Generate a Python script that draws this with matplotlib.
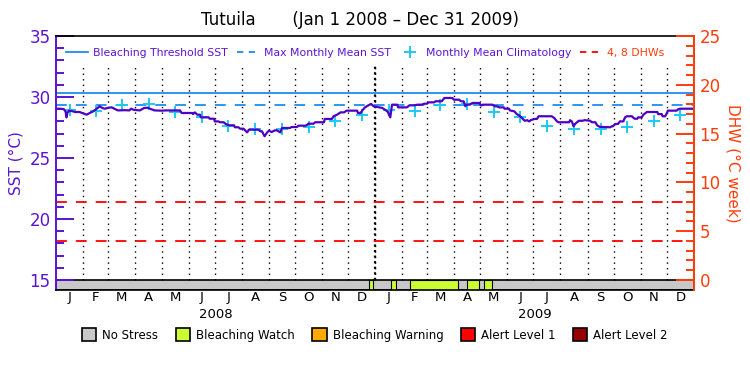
import numpy as np
import matplotlib
matplotlib.use('Agg')
import matplotlib.pyplot as plt
from matplotlib.patches import Patch
from matplotlib.lines import Line2D

# ---------------------------------------------------------------- data
# days since 2008-01-01, daily SST (deg C)
sst_day = [0, 5, 9, 11, 12, 13, 15, 18, 22, 27, 31, 35, 39, 42, 46, 50, 53, 56, 60, 64,
           68, 71, 79, 84, 86, 89, 96, 101, 105, 109, 113, 121, 126, 142, 144, 156, 157, 159,
           162, 165, 166, 175, 176, 181, 182, 186, 188, 192, 194, 198, 204, 205, 209, 211,
           215, 217, 219, 221, 232, 234, 236, 239, 242, 244, 247, 251, 253, 257, 259, 268,
           270, 276, 278, 286, 288, 289, 295, 297, 307, 308, 316, 318, 322, 326, 330, 333,
           345, 346, 349, 351, 354, 358, 361, 364, 374, 377, 380, 383, 385, 391, 392, 402,
           405, 411, 414, 419, 422, 425, 427, 433, 435, 442, 445, 454, 456, 462, 464, 467,
           469, 470, 474, 477, 485, 487, 489, 500, 503, 505, 508, 513, 514, 519, 520, 525,
           528, 531, 534, 537, 540, 542, 544, 548, 551, 553, 568, 571, 574, 576, 588, 589,
           591, 593, 595, 599, 603, 606, 612, 614, 618, 620, 623, 635, 637, 638, 641, 644,
           646, 650, 652, 654, 660, 661, 663, 666, 667, 671, 673, 677, 689, 690, 694, 695,
           698, 700, 701, 711, 713, 715, 731]
sst_val = [29.04, 29.04, 29.0, 28.8, 28.33, 28.7, 28.88, 28.85, 28.77, 28.77, 28.66, 28.55,
           28.7, 28.8, 29.0, 29.24, 29.1, 29.04, 29.12, 29.15, 29.0, 28.9, 28.92, 28.9, 29.04,
           28.95, 28.9, 29.1, 29.12, 29.0, 28.9, 28.88, 28.9, 28.9, 28.69, 28.69, 28.6, 28.74,
           28.55, 28.55, 28.33, 28.33, 28.22, 28.22, 28.0, 28.0, 27.93, 27.93, 27.81, 27.68,
           27.68, 27.52, 27.52, 27.4, 27.4, 27.24, 27.1, 27.32, 27.32, 27.19, 27.19, 26.78,
           27.1, 27.24, 27.13, 27.27, 27.27, 27.1, 27.46, 27.46, 27.54, 27.54, 27.65, 27.65,
           27.73, 27.81, 27.81, 27.93, 27.93, 28.2, 28.2, 28.42, 28.55, 28.74, 28.74, 28.88,
           28.88, 28.69, 28.69, 28.9, 29.15, 29.32, 29.43, 29.24, 29.1, 28.95, 28.8, 28.33,
           29.37, 29.37, 29.15, 29.15, 29.32, 29.32, 29.37, 29.37, 29.45, 29.45, 29.56, 29.56,
           29.65, 29.65, 29.92, 29.92, 29.78, 29.78, 29.65, 29.65, 29.24, 29.37, 29.37, 29.51,
           29.51, 29.3, 29.37, 29.37, 29.24, 29.24, 29.15, 29.15, 29.04, 29.04, 28.9, 28.83,
           28.6, 28.47, 28.27, 28.05, 28.1, 28.0, 28.1, 28.2, 28.2, 28.42, 28.42, 28.27, 28.0,
           27.93, 27.93, 28.1, 28.0, 27.6, 27.81, 28.05, 28.05, 28.1, 28.05, 27.93, 27.93,
           27.68, 27.55, 27.52, 27.6, 27.6, 27.79, 27.79, 28.0, 28.0, 28.33, 28.42, 28.42,
           28.33, 28.22, 28.22, 28.33, 28.33, 28.55, 28.77, 28.77, 28.6, 28.6, 28.42, 28.42,
           28.69, 28.88, 28.88, 29.0, 29.04, 29.04]

clim_months = ['J', 'F', 'M', 'A', 'M', 'J', 'J', 'A', 'S', 'O', 'N', 'D']
clim_val = [28.95, 28.85, 29.32, 29.40, 28.74, 28.33, 27.66, 27.36, 27.38, 27.58, 28.0, 28.5]

mmm = 29.34
threshold = mmm + 1.0
dhw_levels = [4, 8]

# stress periods that are not "No Stress" (day start, day end, level)
stress_start = [359, 384, 406, 471, 490]
stress_end = [363, 390, 461, 485, 499]
stress_level = [1, 1, 1, 1, 1]

stress_names = ['No Stress', 'Bleaching Watch', 'Bleaching Warning', 'Alert Level 1', 'Alert Level 2']
stress_cols = ['#c8c8c8', '#ccff33', '#ffaa00', '#ff0000', '#990000']

years = ['2008', '2009']

# ---------------------------------------------------------------- style
purple = '#5a14d2'
line_col = '#4e00c4'
orange = '#ff3d0a'
blue = '#1e8cf0'
cyan = '#1ec8f5'

plt.rcParams['font.family'] = 'DejaVu Sans'

fig = plt.figure(figsize=(7.5, 3.75), dpi=100)
ax = fig.add_axes([56/750, 1-290/375, 638/750, 254/375])

ymin, ymax = 14.18, 35.0
ndays = 731

# month boundaries / centres
m0 = np.arange(np.datetime64('2008-01'), np.datetime64('2010-01'), dtype='datetime64[M]')
mstart = (m0.astype('datetime64[D]') - np.datetime64('2008-01-01')).astype(int)
mend = np.append(mstart[1:], ndays)
mmid = (mstart + mend) / 2.0

# month grid
ax.vlines(mstart[1:], 15, 32.7, colors='black', linestyles=(0, (1, 3)), lw=1)
ax.vlines([366], 15, 32.7, colors='black', linestyles=(0, (1, 1.5)), lw=1.6)

# reference lines
ax.axhline(threshold, color=blue, lw=1.3)
ax.axhline(mmm, color=blue, lw=1.3, ls=(0, (6, 5)))
for d in dhw_levels:
    ax.axhline(15 + d / 1.25, color='red', lw=1.3, ls=(0, (6, 5)))

# climatology crosses at mid month
ax.plot(mmid, clim_val * 2, '+', color=cyan, ms=9, mew=1.4, ls='none')

# SST
ax.plot(sst_day, sst_val, color=line_col, lw=1.6)

# stress bar
ax.bar(0, 15 - ymin, width=ndays, bottom=ymin, align='edge', color=stress_cols[0],
       edgecolor='black', lw=1.2)
for s, e, lev in zip(stress_start, stress_end, stress_level):
    ax.bar(s, 15 - ymin, width=e - s, bottom=ymin, align='edge', color=stress_cols[lev],
           edgecolor='black', lw=0.8)

ax.set_xlim(0, ndays)
ax.set_ylim(ymin, ymax)
ax.set_xticks([])
ax.set_yticks(np.arange(15, 36, 5))
ax.set_yticks(np.arange(15, 36, 1), minor=True)
ax.tick_params(axis='y', which='major', direction='in', length=13, width=1.4, color=purple,
               labelcolor=purple, labelsize=12, pad=4)
ax.tick_params(axis='y', which='minor', direction='in', length=6, width=1.4, color=purple)
ax.spines['left'].set_color(purple)
ax.spines['left'].set_linewidth(1.4)
ax.spines['right'].set_color(orange)
ax.spines['right'].set_linewidth(1.4)
for sp in ['top', 'bottom']:
    ax.spines[sp].set_linewidth(1.2)
ax.set_ylabel('SST (°C)', color=purple, fontsize=11, labelpad=4)

# DHW axis
ax2 = ax.twinx()
ax2.set_ylim((ymin - 15) * 1.25, (ymax - 15) * 1.25)
ax2.set_yticks(np.arange(0, 26, 5))
ax2.set_yticks(np.arange(0, 26, 1), minor=True)
ax2.tick_params(axis='y', which='major', direction='in', length=13, width=1.4, color=orange,
                labelcolor=orange, labelsize=12, pad=4)
ax2.tick_params(axis='y', which='minor', direction='in', length=6, width=1.4, color=orange)
ax2.spines['right'].set_color(orange)
ax2.spines['right'].set_linewidth(1.4)
ax2.spines['left'].set_visible(False)
ax2.spines['top'].set_visible(False)
ax2.spines['bottom'].set_visible(False)
ax2.set_ylabel('DHW (°C week)', color=orange, fontsize=11, rotation=270, labelpad=14)

# month + year labels
for i, x in enumerate(mmid):
    ax.text(x, -0.03, clim_months[i % 12], transform=ax.get_xaxis_transform(),
            ha='center', va='center', fontsize=9.5)
for i, yr in enumerate(years):
    ax.text(mstart[12 * i] + 183, -0.095, yr, transform=ax.get_xaxis_transform(),
            ha='center', va='center', fontsize=9.5)

ax.set_title('Tutuila       (Jan 1 2008 – Dec 31 2009)', fontsize=12, pad=8, x=0.477)

# top legend
handles = [Line2D([], [], color=blue, lw=1.3),
           Line2D([], [], color=blue, lw=1.3, ls=(0, (3.5, 3))),
           Line2D([], [], color=cyan, marker='+', ms=8, mew=1.4, ls='none'),
           Line2D([], [], color='red', lw=1.3, ls=(0, (3.5, 3)))]
labels = ['Bleaching Threshold SST', 'Max Monthly Mean SST', 'Monthly Mean Climatology', '4, 8 DHWs']
leg = ax2.legend(handles, labels, loc='upper center', bbox_to_anchor=(0.485, 1.0), ncol=4,
                 frameon=False, fontsize=7.8, handlelength=2.0, columnspacing=0.8,
                 handletextpad=0.5, borderpad=0.6)
for t, c in zip(leg.get_texts(), [purple, purple, purple, orange]):
    t.set_color(c)

# stress legend
sh = [Patch(facecolor=c, edgecolor='black', lw=1.2) for c in stress_cols]
fig.legend(sh, stress_names, loc='center', bbox_to_anchor=(0.5, 1 - 335/375), ncol=5,
           frameon=False, fontsize=8.5, handlelength=1.2, handleheight=1.2,
           columnspacing=1.5, handletextpad=0.5)

fig.savefig('out.png', dpi=100)
